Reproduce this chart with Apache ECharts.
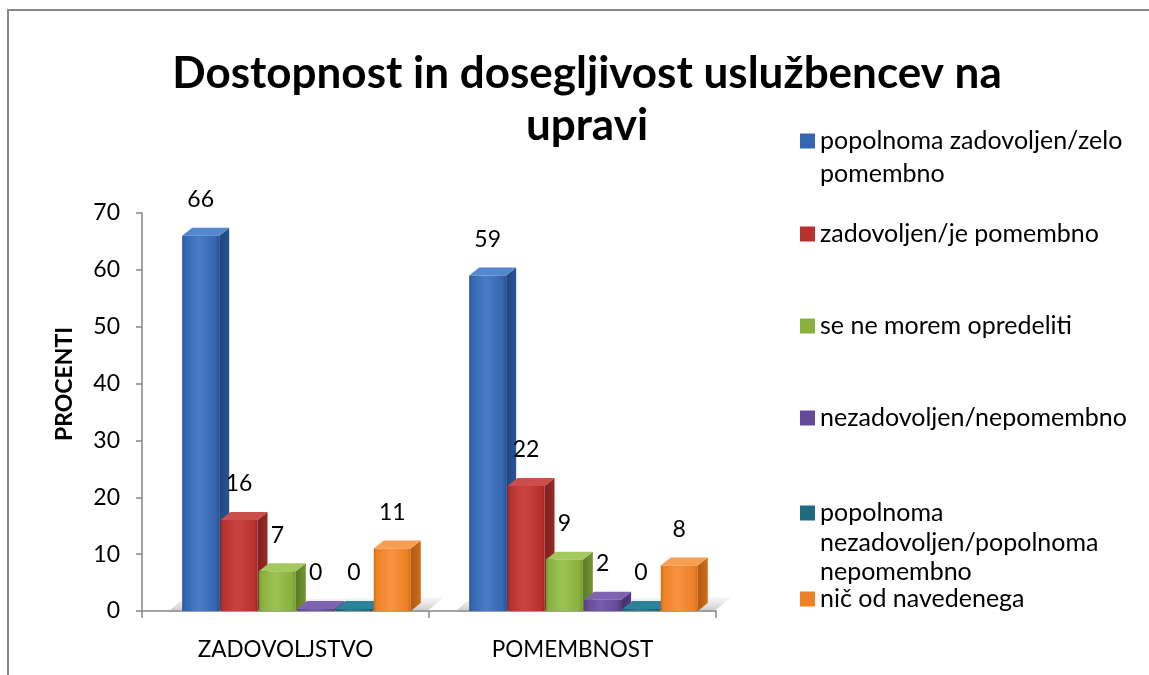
<!DOCTYPE html>
<html><head><meta charset="utf-8">
<script src="https://cdn.jsdelivr.net/npm/echarts@6/dist/echarts.min.js"></script>
<style>html,body{margin:0;padding:0;background:#fff}#c{width:1149px;height:675px}</style>
</head><body><div id="c"></div>
<script>
const categories = ['ZADOVOLJSTVO', 'POMEMBNOST'];
const seriesNames = [
  'popolnoma zadovoljen/zelo pomembno',
  'zadovoljen/je pomembno',
  'se ne morem opredeliti',
  'nezadovoljen/nepomembno',
  'popolnoma nezadovoljen/popolnoma nepomembno',
  'nič od navedenega'
];
const popolnomaZadovoljen = [66, 59];
const zadovoljen = [16, 22];
const neOpredeliti = [7, 9];
const nezadovoljen = [0, 2];
const popolnomaNezadovoljen = [0, 0];
const nicOdNavedenega = [11, 8];
const seriesValues = [popolnomaZadovoljen, zadovoljen, neOpredeliti, nezadovoljen, popolnomaNezadovoljen, nicOdNavedenega];
const yMin = 0, yMax = 70, yStep = 10;

const FONT = 'Lato';
const palette = [
  {base:'#3467B0', light:'#4A7DC6', dark:'#285497', side:'#22467C', top:'#5387CF'},
  {base:'#B8312F', light:'#C94441', dark:'#9A2826', side:'#7E2020', top:'#CC4E4B'},
  {base:'#88B13E', light:'#9BC453', dark:'#739633', side:'#5C7A28', top:'#A2C85E'},
  {base:'#654A98', light:'#775CAB', dark:'#533C80', side:'#432F68', top:'#7E63B2'},
  {base:'#1F6A7C', light:'#2A7C90', dark:'#185868', side:'#124754', top:'#2C8298'},
  {base:'#EE8125', light:'#F79340', dark:'#D06C17', side:'#B05A12', top:'#F89E52'}
];
const legendWrap = [
  'popolnoma zadovoljen/zelo\npomembno',
  'zadovoljen/je pomembno',
  'se ne morem opredeliti',
  'nezadovoljen/nepomembno',
  'popolnoma\nnezadovoljen/popolnoma\nnepomembno',
  'nič od navedenega'
];

function renderBar(params, api) {
  const si = params.seriesIndex;
  const c = api.value(0), v = api.value(1);
  const base = api.coord([c, 0]);
  const topPt = api.coord([c, v]);
  const band = api.size([1, 0])[0];
  const catStart = base[0] - band / 2;
  const pitch = band * 0.1335;
  const w = pitch * 0.965;
  const x0 = catStart + band * 0.14;
  const x = x0 + si * pitch;
  const dx = band * 0.035, dy = 8;
  const yB = base[1];
  const yT = Math.min(topPt[1], yB - 2);
  const col = palette[si];
  const children = [];
  if (si === 0) {
    const xEnd = x0 + 6 * pitch + dx;
    children.push({
      type: 'polygon',
      shape: {points: [[x0 - 14, yB + 1], [xEnd + 4, yB + 1], [xEnd + 22, yB - dy - 6], [x0 - 2, yB - dy - 2]]},
      style: {fill: {type:'linear', x:0, y:0, x2:0, y2:1, colorStops:[{offset:0, color:'rgba(200,200,200,0.15)'},{offset:1, color:'rgba(150,150,150,0.55)'}]}},
      z2: 0
    });
  }
  children.push({
    type: 'polygon',
    shape: {points: [[x + w, yT], [x + w + dx, yT - dy], [x + w + dx, yB - dy], [x + w, yB]]},
    style: {fill: {type:'linear', x:0, y:0, x2:1, y2:0, colorStops:[{offset:0, color:col.side},{offset:1, color:col.dark}]}},
    z2: 1
  });
  children.push({
    type: 'polygon',
    shape: {points: [[x, yT], [x + dx, yT - dy], [x + w + dx, yT - dy], [x + w, yT]]},
    style: {fill: col.top},
    z2: 2
  });
  children.push({
    type: 'rect',
    shape: {x: x, y: yT, width: w, height: yB - yT},
    style: {fill: {type:'linear', x:0, y:0, x2:1, y2:0, colorStops:[
      {offset:0, color:col.dark},{offset:0.08, color:col.base},{offset:0.45, color:col.light},{offset:0.9, color:col.base},{offset:1, color:col.dark}]}},
    z2: 3
  });
  children.push({
    type: 'text',
    style: {text: String(v), x: x + w / 2, y: yT - 36, align: 'center', verticalAlign: 'middle',
      fontSize: 23, fontFamily: FONT, fill: '#000'},
    z2: 5
  });
  return {type: 'group', children: children};
}

const legendItems = [
  {y: 141, n: 2, lh: 33},
  {y: 234, n: 1, lh: 30},
  {y: 326, n: 1, lh: 30},
  {y: 418, n: 1, lh: 30},
  {y: 513, n: 3, lh: 29.5},
  {y: 599, n: 1, lh: 30}
];
const legends = legendItems.map((it, i) => ({
  data: [seriesNames[i]],
  orient: 'vertical',
  left: 800,
  top: it.y - (2 * it.n - 1) * it.lh / 2,
  padding: 0,
  itemWidth: 15,
  itemHeight: 15,
  itemGap: 0,
  icon: 'rect',
  selectedMode: false,
  formatter: () => '\n'.repeat(it.n - 1) + legendWrap[i],
  textStyle: {fontFamily: FONT, fontSize: 25, color: '#000', lineHeight: it.lh}
}));

const chart = echarts.init(document.getElementById('c'));
chart.setOption({
  animation: false,
  backgroundColor: '#fff',
  title: {
    text: 'Dostopnost in dosegljivost uslužbencev na\nupravi',
    left: 582, top: 43, textAlign: 'center',
    textStyle: {fontFamily: FONT, fontWeight: 'bold', fontSize: 44, lineHeight: 52, color: '#000'}
  },
  legend: legends,
  grid: {left: 142, right: 433, top: 213, bottom: 64, containLabel: false},
  xAxis: {
    type: 'category', data: categories,
    axisLine: {lineStyle: {color: '#868686', width: 1.5}},
    axisTick: {show: true, length: 7, lineStyle: {color: '#868686', width: 1.5}},
    axisLabel: {fontFamily: FONT, fontSize: 22.5, color: '#000', margin: 27}
  },
  yAxis: {
    type: 'value', min: yMin, max: yMax, interval: yStep,
    axisLine: {show: true, lineStyle: {color: '#868686', width: 1.5}},
    axisTick: {show: true, length: 6, lineStyle: {color: '#868686', width: 1.5}},
    splitLine: {show: false},
    axisLabel: {fontFamily: FONT, fontSize: 23, color: '#000', margin: 22}
  },
  graphic: [
    {type: 'polyline', shape: {points: [[8, 675], [8, 10], [1149, 10]]}, style: {stroke: '#8a8a8a', lineWidth: 2, fill: null}, silent: true},
    {type: 'text', x: 65, y: 384, rotation: Math.PI / 2,
      style: {text: 'PROCENTI', align: 'center', verticalAlign: 'middle', fontFamily: FONT, fontWeight: 'bold', fontSize: 23, fill: '#000'}}
  ],
  series: seriesValues.map((vals, i) => ({
    type: 'custom',
    name: seriesNames[i],
    renderItem: renderBar,
    itemStyle: {color: palette[i].base},
    encode: {x: 0, y: 1},
    data: vals.map((v, c) => [c, v])
  }))
});
</script></body></html>
